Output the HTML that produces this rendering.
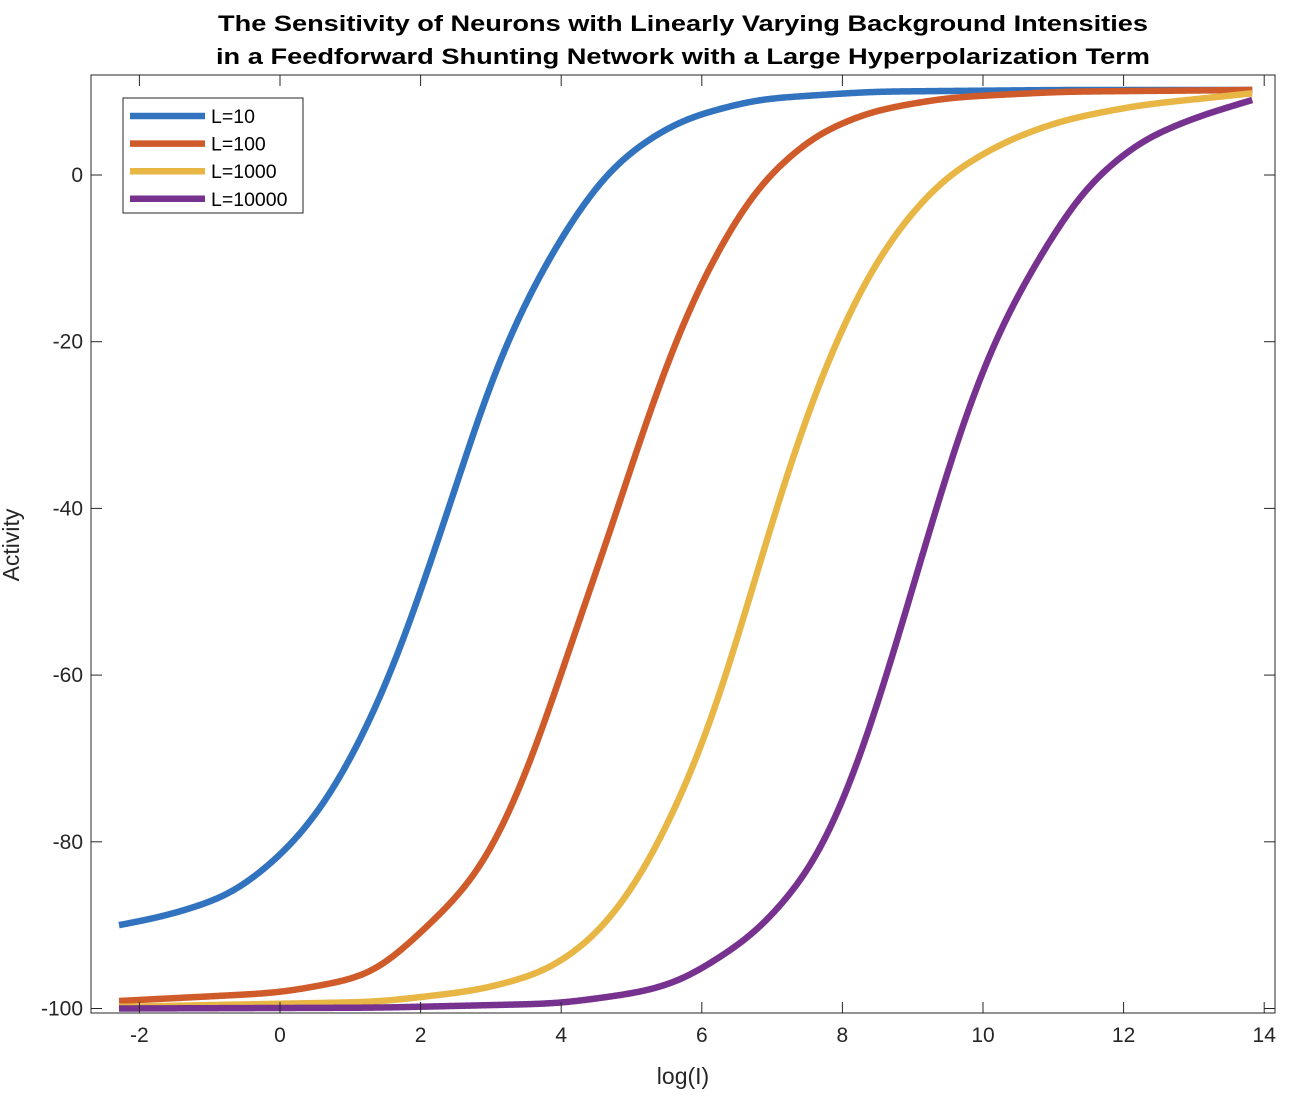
<!DOCTYPE html>
<html><head><meta charset="utf-8"><style>
html,body{margin:0;padding:0;background:#fff;}
svg{display:block;font-family:"Liberation Sans",Arial,sans-serif;}
</style></head><body>
<svg id="chart" width="1308" height="1096" viewBox="0 0 1308 1096" xmlns="http://www.w3.org/2000/svg">
<g>
<text x="683" y="31" text-anchor="middle" font-size="22" font-weight="bold" textLength="930" lengthAdjust="spacingAndGlyphs">The Sensitivity of Neurons with Linearly Varying Background Intensities</text>
<text x="683" y="64" text-anchor="middle" font-size="22" font-weight="bold" textLength="934" lengthAdjust="spacingAndGlyphs">in a Feedforward Shunting Network with a Large Hyperpolarization Term</text>
</g>
<g id="series"></g>
<rect x="91" y="75" width="1184" height="938" fill="none" stroke="#262626" stroke-width="1"/>
<g id="ticks"></g>
<text x="683" y="1084" text-anchor="middle" font-size="23" fill="#262626">log(I)</text>
<text transform="translate(19,545) rotate(-90)" text-anchor="middle" font-size="23" fill="#262626">Activity</text>
<g>
<rect x="123" y="98" width="180" height="115" fill="#fff" stroke="#262626" stroke-width="1"/>
<g id="legend-entries"></g>
</g>
</svg>
<script>
const xTicks=[-2,0,2,4,6,8,10,12,14];
const yTicks=[0,-20,-40,-60,-80,-100];
const seriesNames=["L=10","L=100","L=1000","L=10000"];
const blueX=[-2.29,-1.61,-0.69,0.02,0.56,1.11,1.65,2.03,2.52,3.01,3.56,4.10,4.65,5.19,5.75,6.78,8.41,11.13,13.83];
const blueY=[-90,-88.9,-86.4,-81.7,-76.6,-68.7,-58.6,-49.3,-37.0,-24.0,-13.9,-6.0,0.5,4.1,6.8,9.1,10.0,10.2,10.2];
const redX=[-2.29,0.02,1.11,1.42,2.13,2.77,3.29,3.83,4.27,4.65,5.19,5.75,6.23,6.78,7.59,8.41,9.50,11.13,13.83];
const redY=[-99.1,-98.1,-96.4,-95.4,-89.9,-84.6,-76.6,-64.4,-52.8,-44.2,-29.8,-17,-8.9,-1.3,4.8,7.7,9.3,10.0,10.2];
const yellowX=[-2.29,1.42,2.84,3.79,4.5,5.12,5.75,6.23,6.78,7.32,7.87,8.41,8.96,9.50,10.32,11.13,12.22,13.83];
const yellowY=[-99.8,-99.2,-97.8,-95.6,-91.4,-84.6,-74,-63.6,-47.8,-32.7,-20.4,-11.1,-4.6,0.1,4.1,6.6,8.4,9.8];
const purpleX=[-2.29,1.42,3.98,5.19,5.75,6.78,7.59,8.14,8.69,9.23,9.78,10.32,10.87,11.41,12.22,13.04,13.83];
const purpleY=[-100,-99.9,-99.4,-98.0,-96.6,-91.0,-83.1,-73.0,-58.6,-42.8,-27.6,-16.8,-8.9,-1.7,4.1,7.0,9.0];
const colors=["#3173BE","#CF5B2A","#E8B645","#77318F"];
const X=v=>280+v*70.3, Y=v=>175-v*8.335;
const NS="http://www.w3.org/2000/svg";
function lin(xs,ys,x){
  if(x<=xs[0])return ys[0];
  for(let i=0;i<xs.length-1;i++){if(x<=xs[i+1]){const t=(x-xs[i])/(xs[i+1]-xs[i]);return ys[i]+t*(ys[i+1]-ys[i]);}}
  return ys[ys.length-1];
}
function smoothPath(xs,ys){
  const step=0.02,x0=xs[0],x1=xs[xs.length-1],sig=0.3,R=Math.ceil(3*sig/step);
  const n=Math.round((x1-x0)/step);
  const raw=[];
  for(let i=-R;i<=n+R;i++){
    const x=x0+i*step;
    let v;
    if(x<x0){const s=(ys[1]-ys[0])/(xs[1]-xs[0]);v=ys[0]+s*(x-x0);}
    else if(x>x1){const k=xs.length-1,s=(ys[k]-ys[k-1])/(xs[k]-xs[k-1]);v=ys[k]+s*(x-x1);}
    else v=lin(xs,ys,x);
    raw.push(v);
  }
  const w=[];let ws=0;
  for(let j=-R;j<=R;j++){const a=Math.exp(-0.5*Math.pow(j*step/sig,2));w.push(a);ws+=a;}
  let d="";
  for(let i=0;i<=n;i++){
    let v=0;for(let j=-R;j<=R;j++)v+=w[j+R]*raw[i+R+j];v/=ws;
    const x=x0+i*step;
    d+=(d?" L":"M")+X(x).toFixed(2)+","+Y(v).toFixed(2);
  }
  return d;
}
const sg=document.getElementById("series");
const allX=[blueX,redX,yellowX,purpleX], allY=[blueY,redY,yellowY,purpleY];
const nm=["series-l10","series-l100","series-l1000","series-l10000"];
for(let s=0;s<4;s++){
  const el=document.createElementNS(NS,"path");
  el.setAttribute("d",smoothPath(allX[s],allY[s]));
  el.setAttribute("fill","none");el.setAttribute("stroke",colors[s]);el.setAttribute("stroke-width","6.5");
  el.setAttribute("stroke-linejoin","round");
  
  
  sg.appendChild(el);
}
const tg=document.getElementById("ticks");
function add(tag,attrs,txt){const e=document.createElementNS(NS,tag);for(const k in attrs)e.setAttribute(k,attrs[k]);if(txt!==undefined)e.textContent=txt;tg.appendChild(e);return e;}
xTicks.forEach(v=>{
  const x=X(v);
  add("line",{x1:x,x2:x,y1:1013,y2:1002,stroke:"#262626"});
  add("line",{x1:x,x2:x,y1:75,y2:86,stroke:"#262626"});
  const t=add("text",{x:x,y:1042,"text-anchor":"middle","font-size":"21",fill:"#262626"},String(v));
  
  
});
yTicks.forEach(v=>{
  const y=Y(v);
  add("line",{x1:91,x2:102,y1:y,y2:y,stroke:"#262626"});
  add("line",{x1:1275,x2:1264,y1:y,y2:y,stroke:"#262626"});
  const t=add("text",{x:83,y:y+7,"text-anchor":"end","font-size":"21",fill:"#262626"},String(v));
  
  
});
const lg=document.getElementById("legend-entries");
seriesNames.forEach((n,i)=>{
  const y=116+i*27.6;
  const g=document.createElementNS(NS,"g");
  
  
  const l=document.createElementNS(NS,"line");
  l.setAttribute("x1",130);l.setAttribute("x2",205);l.setAttribute("y1",y);l.setAttribute("y2",y);
  l.setAttribute("stroke",colors[i]);l.setAttribute("stroke-width","6.5");
  const t=document.createElementNS(NS,"text");
  t.setAttribute("x",211);t.setAttribute("y",y+7);t.setAttribute("font-size","19.5");t.setAttribute("fill","#000");
  t.textContent=n;
  g.appendChild(l);g.appendChild(t);lg.appendChild(g);
});
</script>
</body></html>
